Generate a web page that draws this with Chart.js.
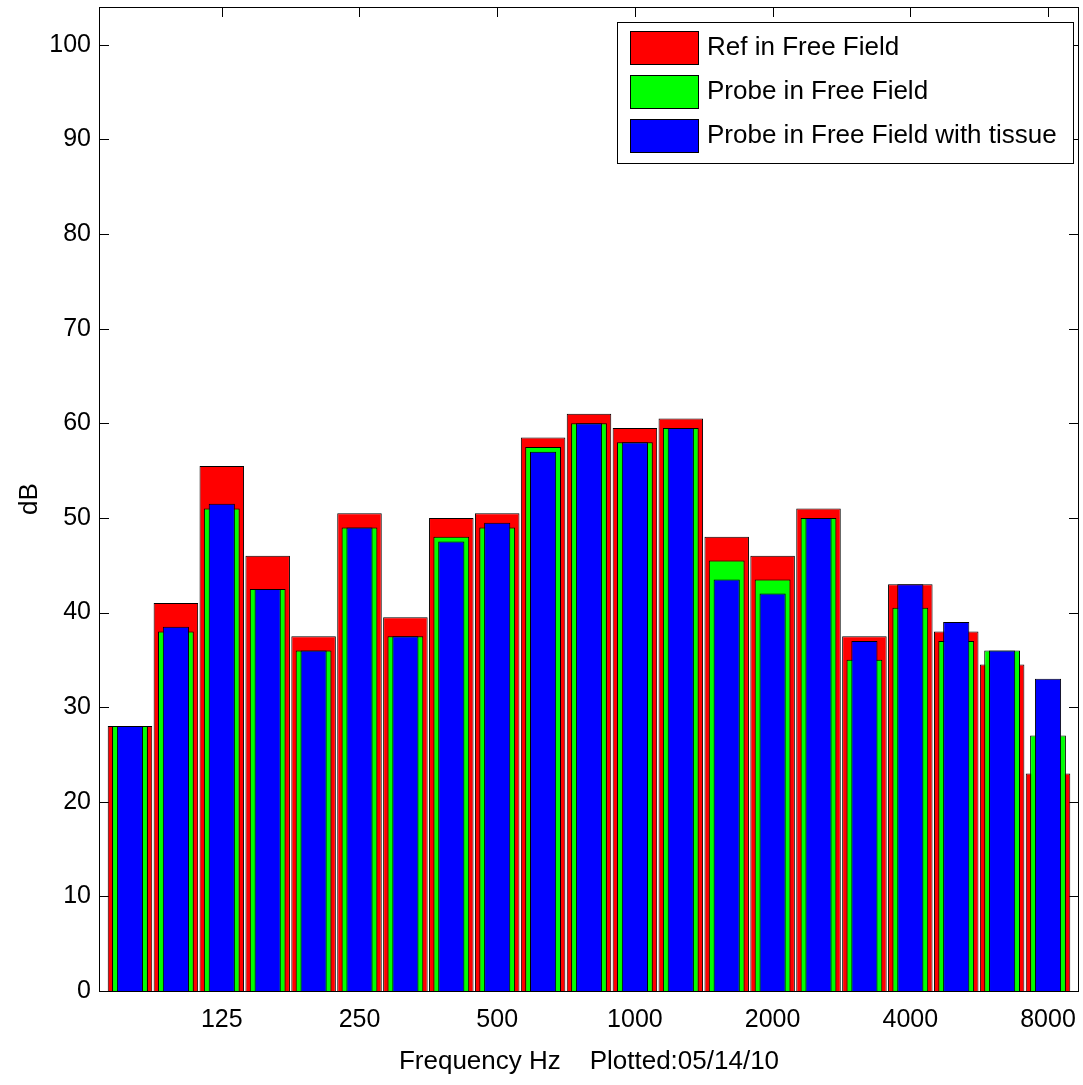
<!DOCTYPE html>
<html>
<head>
<meta charset="utf-8">
<script src="https://cdn.jsdelivr.net/npm/chart.js@4.4.1/dist/chart.umd.min.js"></script>
<style>
html, body { margin: 0; padding: 0; background: #fff; }
#wrap { width: 1083px; height: 1085px; position: relative; }
</style>
</head>
<body>
<div id="wrap"><canvas id="mychart"></canvas></div>
<script>
// third-octave bands (Hz), one bar group per band
var bands = ["80", "100", "125", "160", "200", "250", "315", "400", "500", "630", "800",
             "1000", "1250", "1600", "2000", "2500", "3150", "4000", "5000", "6300", "8000"];
// only the octave bands get a label on the x axis
var tickBands = ["125", "250", "500", "1000", "2000", "4000", "8000"];
var yTicks = [0, 10, 20, 30, 40, 50, 60, 70, 80, 90, 100];

// levels in dB
var refFree    = [28, 41, 55.5, 46, 37.5, 50.5, 39.5, 50, 50.5, 58.5, 61, 59.5, 60.5, 48, 46, 51, 37.5, 43, 38, 34.5, 23];
var probeFree  = [28, 38, 51, 42.5, 36, 49, 37.5, 48, 49, 57.5, 60, 58, 59.5, 45.5, 43.5, 50, 35, 40.5, 37, 36, 27];
var probeTissue = [28, 38.5, 51.5, 42.5, 36, 49, 37.5, 47.5, 49.5, 57, 60, 58, 59.5, 43.5, 42, 50, 37, 43, 39, 36, 33];

var FONT = "'Liberation Sans', Arial, Helvetica, sans-serif";

function toPoints(values) {
    return values.map(function (v, i) { return { x: i + 1, y: v }; });
}

// box round the plot with inward ticks on all four sides, plus the legend
var axisBox = {
    id: 'axisBox',
    beforeDatasetsDraw: function (chart) {
        var ctx = chart.ctx, a = chart.chartArea;
        var xs = chart.scales.x, ys = chart.scales.y;
        ctx.save();
        ctx.strokeStyle = '#000';
        ctx.lineWidth = 1;
        ctx.beginPath();
        yTicks.forEach(function (v) {
            var y = Math.round(ys.getPixelForValue(v)) + 0.5;
            ctx.moveTo(a.left, y); ctx.lineTo(a.left + 10, y);
            ctx.moveTo(a.right, y); ctx.lineTo(a.right - 10, y);
        });
        tickBands.forEach(function (b) {
            var x = Math.round(xs.getPixelForValue(bands.indexOf(b) + 1)) + 0.5;
            ctx.moveTo(x, a.bottom); ctx.lineTo(x, a.bottom - 10);
            ctx.moveTo(x, a.top); ctx.lineTo(x, a.top + 10);
        });
        ctx.stroke();
        ctx.restore();
    },
    afterDatasetsDraw: function (chart) {
        var ctx = chart.ctx, a = chart.chartArea;
        ctx.save();
        ctx.strokeStyle = '#000';
        ctx.lineWidth = 1;
        ctx.strokeRect(Math.round(a.left) + 0.5, Math.round(a.top) + 0.5,
                       Math.round(a.right - a.left) - 1, Math.round(a.bottom - a.top));

        // legend
        var lx = 617, ly = 22, lw = 456, lh = 141;
        ctx.fillStyle = '#fff';
        ctx.fillRect(lx, ly, lw, lh);
        ctx.strokeRect(lx + 0.5, ly + 0.5, lw, lh);
        ctx.font = '26px ' + FONT;
        ctx.textBaseline = 'middle';
        chart.data.datasets.forEach(function (ds, i) {
            var sy = 31 + i * 44;
            ctx.fillStyle = ds.backgroundColor;
            ctx.fillRect(630, sy, 68, 33);
            ctx.strokeRect(630.5, sy + 0.5, 68, 33);
            ctx.fillStyle = '#000';
            ctx.fillText(ds.label, 707, sy + 17);
        });
        ctx.restore();
    }
};

var datasets = [
    { label: 'Ref in Free Field', data: toPoints(refFree), backgroundColor: '#ff0000', barPercentage: 0.97, order: 3 },
    { label: 'Probe in Free Field', data: toPoints(probeFree), backgroundColor: '#00ff00', barPercentage: 0.78, order: 2 },
    { label: 'Probe in Free Field with tissue', data: toPoints(probeTissue), backgroundColor: '#0000ff', barPercentage: 0.57, order: 1 }
];
datasets.forEach(function (ds) {
    ds.grouped = false;
    ds.categoryPercentage = 1;
    ds.borderColor = '#000';
    ds.borderWidth = 1;
});

var canvas = document.getElementById('mychart');
var mychart = new Chart(canvas, {
    type: 'bar',
    data: { datasets: datasets },
    options: {
        responsive: true,
        maintainAspectRatio: false,
        animation: false,
        layout: { padding: { left: 0, right: 4, top: 7, bottom: 0 } },
        plugins: { legend: { display: false }, tooltip: { enabled: false } },
        scales: {
            x: {
                type: 'linear',
                offset: false,
                min: 0.325,
                max: 21.675,
                grid: { display: false, drawTicks: false, offset: false },
                border: { display: false },
                afterBuildTicks: function (scale) {
                    scale.ticks = tickBands.map(function (b) { return { value: bands.indexOf(b) + 1 }; });
                },
                afterFit: function (scale) {
                    scale.height = 94;
                    scale.paddingLeft = 0;
                    scale.paddingRight = 0;
                },
                ticks: {
                    color: '#000',
                    font: { family: FONT, size: 25 },
                    padding: 14,
                    maxRotation: 0,
                    autoSkip: false,
                    callback: function (v) { return bands[v - 1]; }
                },
                title: {
                    display: true,
                    text: 'Frequency Hz    Plotted:05/14/10',
                    color: '#000',
                    font: { family: FONT, size: 26 },
                    padding: { top: 0, bottom: 8 }
                }
            },
            y: {
                min: 0,
                max: 104,
                grid: { display: false, drawTicks: false },
                border: { display: false },
                afterBuildTicks: function (scale) {
                    scale.ticks = yTicks.map(function (v) { return { value: v }; });
                },
                afterFit: function (scale) {
                    scale.width = 99;
                    scale.paddingTop = 0;
                    scale.paddingBottom = 0;
                },
                ticks: {
                    color: '#000',
                    font: { family: FONT, size: 25 },
                    padding: 8
                },
                title: {
                    display: true,
                    text: 'dB',
                    color: '#000',
                    font: { family: FONT, size: 26 },
                    padding: { top: 14, bottom: 0 }
                }
            }
        }
    },
    plugins: [axisBox]
});
</script>
</body>
</html>
